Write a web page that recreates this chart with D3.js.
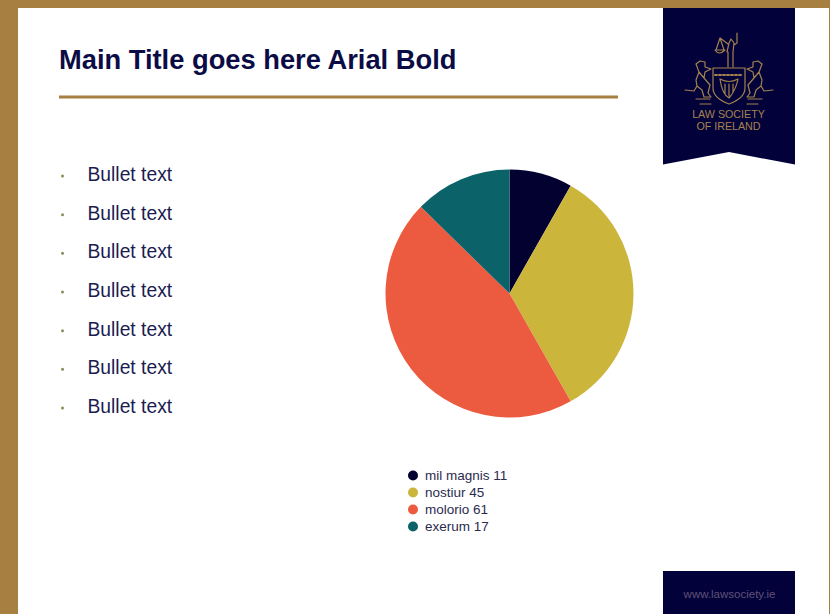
<!DOCTYPE html>
<html>
<head>
<meta charset="utf-8">
<style>
  html, body { margin: 0; padding: 0; background: #fff; }
  svg { display: block; }
  text { font-family: "Liberation Sans", Arial, sans-serif; }
</style>
<script src="https://cdn.jsdelivr.net/npm/d3@7/dist/d3.min.js"></script>
</head>
<body>
<svg id="slide" width="830" height="614"></svg>
<script>
const categories = ["mil magnis", "nostiur", "molorio", "exerum"];
const values = [11, 45, 61, 17];
const sliceColours = ["#03012f", "#cbb53b", "#ec5a3f", "#0b6369"];
const bullets = ["Bullet text", "Bullet text", "Bullet text", "Bullet text", "Bullet text", "Bullet text", "Bullet text"];

const gold = "#a67f41";
const navy = "#03013a";
const svg = d3.select("#slide");

// Slide frame
svg.append("rect").attr("width", 830).attr("height", 614).attr("fill", gold);
svg.append("rect").attr("x", 18).attr("y", 8).attr("width", 811).attr("height", 606).attr("fill", "#fff");

// Title and rule
svg.append("text").attr("x", 59).attr("y", 69)
  .attr("font-size", 27.3).attr("font-weight", 700).attr("fill", "#0b0b45")
  .text("Main Title goes here Arial Bold");
svg.append("rect").attr("x", 59).attr("y", 95.5).attr("width", 559).attr("height", 3).attr("fill", gold);

// Bullet list
const rowY = d3.scalePoint().domain(d3.range(bullets.length)).range([174.5, 406.5]);
const rows = svg.append("g").selectAll("g").data(bullets).join("g")
  .attr("transform", (d, i) => `translate(0,${rowY(i)})`);
rows.append("circle").attr("cx", 62.5).attr("cy", 1.5).attr("r", 1.5).attr("fill", "#8f8a5c");
rows.append("text").attr("x", 87.5).attr("y", 6.5)
  .attr("font-size", 19.3).attr("fill", "#1c1c50").text(d => d);

// Pie, starting at twelve o'clock and running clockwise
const pie = d3.pie().sort(null).value(d => d)(values);
const arc = d3.arc().innerRadius(0).outerRadius(124);
svg.append("g").attr("transform", "translate(509.5,293.5)")
  .selectAll("path").data(pie).join("path")
  .attr("d", arc)
  .attr("fill", (d, i) => sliceColours[i]);

// Legend
const legendY = d3.scalePoint().domain(d3.range(categories.length)).range([475, 526]);
const legend = svg.append("g").selectAll("g").data(categories).join("g")
  .attr("transform", (d, i) => `translate(0,${legendY(i)})`);
legend.append("circle").attr("cx", 413).attr("cy", 0.5).attr("r", 5).attr("fill", (d, i) => sliceColours[i]);
legend.append("text").attr("x", 425).attr("y", 4.5)
  .attr("font-size", 13.5).attr("fill", "#2b2b4f")
  .text((d, i) => `${d} ${values[i]}`);

// Ribbon with crest
svg.append("path").attr("d", "M663,8H795V164.5L729,152L663,164.5Z").attr("fill", navy);

const crest = svg.append("g").attr("fill", "none").attr("stroke", "#a3834f")
  .attr("stroke-width", 1.2).attr("stroke-linecap", "round").attr("stroke-linejoin", "round");
// Shield
crest.append("path").attr("d", "M713,68H745V88Q745,98 729,104Q713,98 713,88Z");
crest.append("path").attr("d", "M715,75H743").attr("stroke-width", 2).attr("stroke-dasharray", "2 2");
// Harp
crest.append("path").attr("d", "M720,79Q722,94 729,98Q736,90 738,79Q729,84 720,79ZM725,84V93M729,84V96M733,84V92");
// Figure of justice above the shield
crest.append("path").attr("d", "M728,67V52M733,67V52M727,52L729,43L731,39L734,43L733,52M734,45L737,43V33");
// Scales held out to the left
crest.append("path").attr("d", "M728,44L720,38L716,50M720,38L724,50M715,50Q719,56 725,50Z");
// Left supporter
crest.append("path").attr("d", "M696,64L700,61L705,62L705,67L711,69L705,72L704,78L710,85L708,93L711,97H704L702,90L697,86L694,91L685,90M696,64L699,72L696,80L697,86M704,78L699,72");
crest.append("path").attr("d", "M696,99H710M700,104H711");
// Right supporter
crest.append("path").attr("d", "M762,64L758,61L753,62L753,67L747,69L753,72L754,78L748,85L750,93L747,97H754L756,90L761,86L764,91L773,90M762,64L759,72L762,80L761,86M754,78L759,72");
crest.append("path").attr("d", "M748,99H762M747,104H758");

svg.append("g").attr("text-anchor", "middle").attr("fill", "#a3834f").attr("font-size", 10.7)
  .selectAll("text").data(["LAW SOCIETY", "OF IRELAND"]).join("text")
  .attr("x", 728.5).attr("y", (d, i) => 118 + i * 12).text(d => d);

// Footer tab
svg.append("rect").attr("x", 663).attr("y", 571).attr("width", 132).attr("height", 43).attr("fill", navy);
svg.append("text").attr("x", 729.5).attr("y", 598).attr("text-anchor", "middle")
  .attr("font-size", 11.5).attr("fill", "#5f5378").text("www.lawsociety.ie");
</script>
</body>
</html>
